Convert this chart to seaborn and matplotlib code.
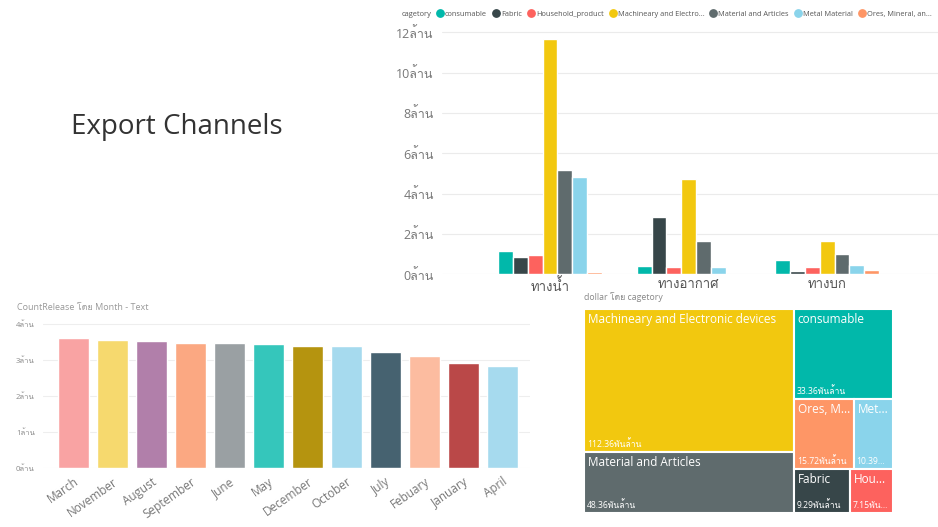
import matplotlib
matplotlib.use("Agg")
import matplotlib.pyplot as plt
from matplotlib import font_manager
from matplotlib.ft2font import FT2Font
from matplotlib.ticker import FuncFormatter, MultipleLocator
from matplotlib.patches import Rectangle
from matplotlib.lines import Line2D
import pandas as pd
import seaborn as sns

# ---------------- data ----------------
channels = ["ทางน้ำ", "ทางอากาศ", "ทางบก"]
categories = ["consumable", "Fabric", "Household_product", "Machineary and Electronic devices",
              "Material and Articles", "Metal Material", "Ores, Mineral, and others"]
legend_labels = ["consumable", "Fabric", "Household_product", "Machineary and Electro...",
                 "Material and Articles", "Metal Material", "Ores, Mineral, an..."]
cat_colors = ["#01B8AA", "#374649", "#FD625E", "#F2C80F", "#5F6B6D", "#8AD4EB", "#FE9666"]
# values in ล้าน (millions), per channel, order of categories
water = [1.16, 0.84, 0.94, 11.67, 5.19, 4.81, 0.13]
air = [0.40, 2.85, 0.35, 4.70, 1.65, 0.37, 0.03]
land = [0.71, 0.18, 0.37, 1.65, 1.01, 0.47, 0.20]

months = ["March", "November", "August", "September", "June", "May", "December",
          "October", "July", "Febuary", "January", "April"]
month_counts = [3.60, 3.56, 3.53, 3.47, 3.47, 3.44, 3.40, 3.39, 3.22, 3.11, 2.91, 2.84]
month_colors = ["#F9A3A3", "#F6D96E", "#B17FAA", "#FBA882", "#9AA0A3", "#35C6BB",
                "#B5940F", "#A6DAEE", "#466270", "#FCBCA0", "#BA4848", "#A6DAEE"]

tree_names = ["Machineary and Electronic devices", "Material and Articles", "consumable",
              "Ores, Mineral, and others", "Metal Material", "Fabric", "Household_product"]
tree_labels = ["Machineary and Electronic devices", "Material and Articles", "consumable",
               "Ores, M...", "Met...", "Fabric", "Hou..."]
tree_values = [112.36, 48.36, 33.36, 15.72, 10.39, 9.29, 7.15]
tree_value_labels = ["112.36พันล้าน", "48.36พันล้าน", "33.36พันล้าน", "15.72พันล้าน",
                     "10.39...", "9.29พันล้าน", "7.15พัน..."]
tree_colors = ["#F2C80F", "#5F6B6D", "#01B8AA", "#FE9666", "#8AD4EB", "#374649", "#FD625E"]
# nested layout: columns -> rows -> cells (indices into tree arrays)
tree_structure = [[[0], [1]], [[2], [3, 4], [5, 6]]]

# ---------------- fonts ----------------
sns.set_theme(style="white")
thai_family = None
for f in font_manager.fontManager.ttflist:
    try:
        cm = FT2Font(f.fname).get_charmap()
        if 0x0E17 in cm and 0x0E49 in cm:
            thai_family = f.name
            break
    except Exception:
        pass
fams = ["Open Sans"] + ([thai_family] if thai_family else []) + ["DejaVu Sans"]
plt.rcParams["font.family"] = fams

W, H = 938, 527
fig = plt.figure(figsize=(W / 100, H / 100), dpi=100)
fig.patch.set_facecolor("white")


def px_axes(x0, y0, x1, y1):
    return fig.add_axes([x0 / W, 1 - y1 / H, (x1 - x0) / W, (y1 - y0) / H])


grey = "#777777"
lab = lambda v, p: f"{int(round(v))}ล้าน"

# ---------------- title ----------------
fig.text(71 / W, 1 - 127 / H, "Export Channels", fontsize=20, color="#333333",
         va="center", ha="left", family=fams)

# ---------------- top grouped bar chart ----------------
ax1 = px_axes(442, 26, 938, 274.3)
df = pd.DataFrame({
    "channel": [c for c in channels for _ in categories],
    "category": categories * 3,
    "value": water + air + land,
})
sns.barplot(data=df, x="channel", y="value", hue="category", hue_order=categories,
            palette=cat_colors, saturation=1, width=0.75, ax=ax1, legend=False)
ax1.set_xlim(-0.78, 2.8)
ax1.set_ylim(0, 12.31)
ax1.yaxis.set_major_locator(MultipleLocator(2))
ax1.yaxis.set_major_formatter(FuncFormatter(lab))
ax1.grid(axis="y", color="#EBEBEB", lw=0.8)
ax1.set_axisbelow(True)
for s in ax1.spines.values():
    s.set_visible(False)
ax1.set_xlabel("")
ax1.set_ylabel("")
ax1.tick_params(axis="y", labelsize=9, colors=grey, length=0, pad=6)
ax1.tick_params(axis="x", labelsize=9.5, colors="#555555", length=0, pad=3)

handles = [Line2D([], [], marker="o", ls="", color=c, markersize=5.3) for c in cat_colors]
fig.text(402 / W, 1 - 14 / H, "cagetory", fontsize=5.4, color="#555555", va="center")
fig.legend(handles, legend_labels, ncol=7, loc="center left",
           bbox_to_anchor=(437 / W, 1 - 14 / H), frameon=False, fontsize=5.3,
           handlelength=0.8, handletextpad=0.3, columnspacing=0.8,
           borderaxespad=0, borderpad=0, labelcolor="#555555")

# ---------------- month bar chart ----------------
fig.text(17 / W, 1 - 308 / H, "CountRelease โดย Month - Text", fontsize=6.5, color="#999999",
         va="center", ha="left")
ax2 = px_axes(43, 320, 530, 468.3)
sns.barplot(x=months, y=month_counts, hue=months, palette=month_colors, saturation=1,
            width=0.8, ax=ax2, legend=False)
ax2.set_xlim(-0.78, 11.71)
ax2.set_ylim(0, 4.11)
ax2.yaxis.set_major_locator(MultipleLocator(1))
ax2.yaxis.set_major_formatter(FuncFormatter(lab))
ax2.grid(axis="y", color="#EEEEEE", lw=0.8)
ax2.set_axisbelow(True)
for s in ax2.spines.values():
    s.set_visible(False)
ax2.tick_params(axis="y", labelsize=5.5, colors="#888888", length=0, pad=6)
ax2.tick_params(axis="x", labelsize=8.5, colors=grey, length=0, pad=5)
for t in ax2.get_xticklabels():
    t.set_rotation(35)
    t.set_ha("right")
    t.set_rotation_mode("anchor")

# ---------------- treemap ----------------
fig.text(584 / W, 1 - 297 / H, "dollar โดย cagetory", fontsize=6.3, color="#888888",
         va="center", ha="left")
ax3 = px_axes(584, 309, 893, 513)
ax3.set_xlim(0, 1)
ax3.set_ylim(1, 0)
ax3.axis("off")
total = sum(tree_values)
ax_w, ax_h = 309, 204
x = 0.0
for col in tree_structure:
    col_sum = sum(tree_values[i] for row in col for i in row)
    cw = col_sum / total
    y = 0.0
    for row in col:
        row_sum = sum(tree_values[i] for i in row)
        rh = row_sum / col_sum
        xx = x
        for i in row:
            w = cw * tree_values[i] / row_sum
            ax3.add_patch(Rectangle((xx, y), w, rh, facecolor=tree_colors[i],
                                    edgecolor="white", lw=1.5))
            ax3.text(xx + 4 / ax_w, y + 4 / ax_h, tree_labels[i], color="white",
                     fontsize=8.5, va="top", ha="left")
            ax3.text(xx + 3 / ax_w, y + rh - 3 / ax_h, tree_value_labels[i], color="white",
                     fontsize=6.2, va="bottom", ha="left")
            xx += w
        y += rh
    x += cw

fig.savefig("out.png", dpi=100, facecolor="white")
